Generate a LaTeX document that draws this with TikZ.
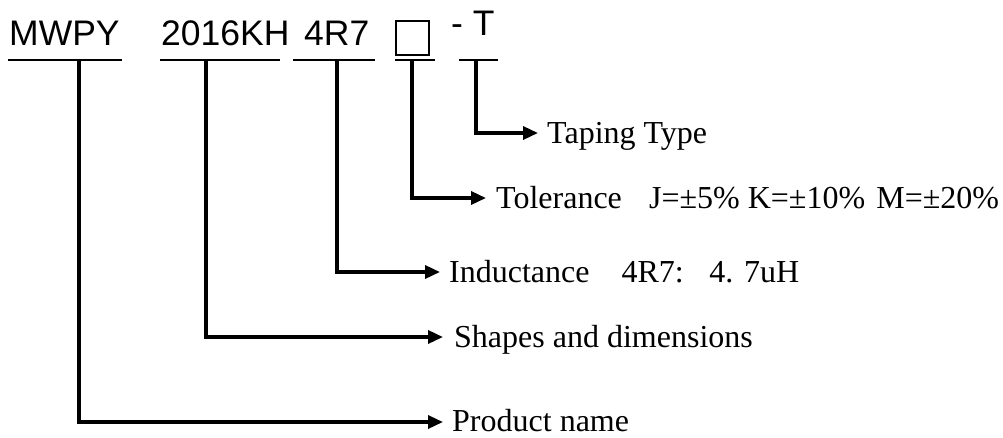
\documentclass[tikz,border=0pt]{standalone}
\usepackage{fontspec}
\setmainfont{Liberation Serif}
\newfontfamily\hdrfont{Liberation Sans}
\usetikzlibrary{arrows.meta}
\begin{document}
\begin{tikzpicture}[x=1pt,y=-1pt,
  hdr/.style={anchor=base west,inner sep=0pt,font=\hdrfont\fontsize{35.5}{36}\selectfont},
  lbl/.style={anchor=base west,inner sep=0pt,font=\fontsize{32}{33}\selectfont},
  uline/.style={line width=2.6pt},
  conn/.style={line width=3.4pt,-{Triangle[length=15pt,width=13pt]}}]
\useasboundingbox (0,0) rectangle (1003,437);
% header
\node[hdr] (mwpy) at (9,45) {MWPY};
\node[hdr] (size) at (161,45) {2016KH};
\node[hdr] (ind) at (304,45) {4R7};
\node[draw,line width=1.3pt,minimum width=33pt,minimum height=34pt,inner sep=0pt] (tol) at (412.5,38) {};
\node[hdr] (tape) at (451,35) {- T};
% underlines
\draw[uline] (8,60) -- (122,60);
\draw[uline] (160,60) -- (280,60);
\draw[uline] (293,60) -- (375,60);
\draw[uline] (395,60) -- (435,60);
\draw[uline] (459,60) -- (498,60);
% connector starts
\coordinate (c1) at (79,60);
\coordinate (c2) at (206,60);
\coordinate (c3) at (337,60);
\coordinate (c4) at (412,60);
\coordinate (c5) at (476,60);
% tips
\coordinate (t5) at (538,133);
\coordinate (t4) at (486,198);
\coordinate (t3) at (440,272);
\coordinate (t2) at (443,337);
\coordinate (t1) at (443,422);
% labels
\node[lbl] (l5) at (547,143) {Taping Type};
\node[lbl] (l4) at (496,208) {Tolerance\hspace{0.85em}J=±5\% K=±10\%\hspace{0.35em}M=±20\%};
\node[lbl] (l3) at (449,282) {Inductance\hspace{1.0em}4R7:\hspace{0.8em}4. 7uH};
\node[lbl] (l2) at (454,347) {Shapes and dimensions};
\node[lbl] (l1) at (452,431) {Product name};
% connectors
\draw[conn] (c5) |- (t5);
\draw[conn] (c4) |- (t4);
\draw[conn] (c3) |- (t3);
\draw[conn] (c2) |- (t2);
\draw[conn] (c1) |- (t1);
\end{tikzpicture}
\end{document}
